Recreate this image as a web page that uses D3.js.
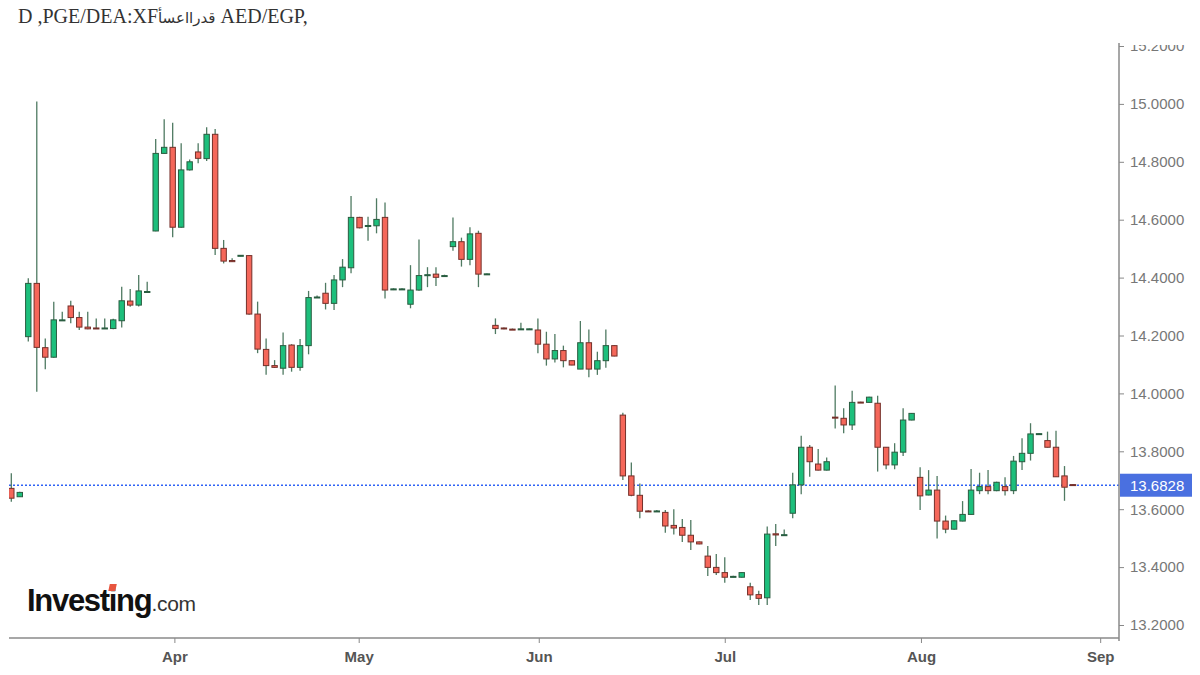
<!DOCTYPE html>
<html>

<head>
    <meta charset="utf-8">
    <style>
        body {
            margin: 0;
            background: #fff;
        }

        .chart-container {
            position: relative;
            width: 1200px;
            height: 675px;
        }

        .headline {
            position: absolute;
            left: 18px;
            top: 5px;
            margin: 0;
            font-family: 'Liberation Serif', 'DejaVu Serif', serif;
            font-weight: normal;
            font-size: 20px;
            color: #333;
            white-space: nowrap;
        }

        .headline .ar {
            font-family: 'DejaVu Sans', sans-serif;
            font-size: 15px;
        }

        svg {
            position: absolute;
            left: 0;
            top: 0;
        }

        .y-axis text {
            font-family: 'Liberation Sans', Arial, sans-serif;
            font-size: 15px;
            fill: #777;
        }

        .x-axis text {
            font-family: 'Liberation Sans', Arial, sans-serif;
            font-size: 15px;
            font-weight: bold;
            fill: #555;
        }
    </style>
</head>

<body>
    <div class="chart-container">
        <h1 class="headline">D ,PGE/DEA:XF<span class="ar">قدرااعسأ</span> AED/EGP,</h1>
        <svg width="1200" height="675"></svg>
    </div>
</body>

<script src="https://d3js.org/d3.v7.min.js"></script>

<script>
    // daily candles, one per trading slot
    let opens = [
        13.672, 13.643, 14.196, 14.380, 14.158, 14.125, 14.252, 14.302, 14.262, 14.229,
        14.226, 14.224, 14.224, 14.251, 14.319, 14.305, 14.350, 14.561, 14.829, 14.850,
        14.574, 14.772, 14.834, 14.811, 14.895, 14.501, 14.459, 14.475, 14.476, 14.274,
        14.152, 14.096, 14.087, 14.167, 14.090, 14.165, 14.331, 14.346, 14.311, 14.392,
        14.434, 14.608, 14.578, 14.579, 14.608, 14.359, 14.359, 14.308, 14.357, 14.408,
        14.412, 14.405, 14.507, 14.524, 14.463, 14.553, 14.410, 14.235, 14.226, 14.222,
        14.221, 14.221, 14.219, 14.170, 14.119, 14.148, 14.113, 14.084, 14.175, 14.084,
        14.113, 14.165, 13.925, 13.715, 13.648, 13.594, 13.592, 13.589, 13.544, 13.537,
        13.510, 13.487, 13.438, 13.399, 13.381, 13.366, 13.365, 13.332, 13.305, 13.294,
        13.515, 13.511, 13.586, 13.684, 13.814, 13.756, 13.735, 13.918, 13.914, 13.891,
        13.970, 13.969, 13.966, 13.814, 13.753, 13.797, 13.908, 13.710, 13.649, 13.666,
        13.559, 13.531, 13.559, 13.582, 13.664, 13.678, 13.664, 13.678, 13.664, 13.764,
        13.793, 13.859, 13.837, 13.814, 13.715, 13.685
    ]
    let highs = [
        13.724, 13.660, 14.398, 15.008, 14.190, 14.317, 14.282, 14.320, 14.282, 14.282,
        14.259, 14.259, 14.258, 14.368, 14.361, 14.409, 14.386, 14.879, 14.947, 14.935,
        14.864, 14.808, 14.864, 14.919, 14.913, 14.530, 14.467, 14.478, 14.478, 14.317,
        14.190, 14.115, 14.210, 14.170, 14.188, 14.354, 14.338, 14.382, 14.409, 14.464,
        14.682, 14.610, 14.610, 14.674, 14.659, 14.363, 14.363, 14.443, 14.532, 14.436,
        14.436, 14.410, 14.608, 14.538, 14.574, 14.562, 14.414, 14.259, 14.228, 14.224,
        14.244, 14.224, 14.259, 14.213, 14.205, 14.165, 14.114, 14.250, 14.221, 14.144,
        14.221, 14.166, 13.933, 13.761, 13.689, 13.596, 13.597, 13.597, 13.600, 13.566,
        13.563, 13.488, 13.473, 13.445, 13.434, 13.370, 13.382, 13.346, 13.318, 13.540,
        13.549, 13.530, 13.726, 13.854, 13.822, 13.808, 13.779, 14.027, 13.949, 14.009,
        13.971, 13.988, 13.992, 13.815, 13.828, 13.949, 13.932, 13.745, 13.735, 13.715,
        13.578, 13.562, 13.628, 13.739, 13.726, 13.735, 13.695, 13.710, 13.784, 13.845,
        13.897, 13.862, 13.868, 13.871, 13.749, 13.687
    ]
    let lows = [
        13.626, 13.642, 14.179, 14.006, 14.083, 14.123, 14.250, 14.242, 14.219, 14.222,
        14.223, 14.223, 14.222, 14.228, 14.299, 14.300, 14.350, 14.560, 14.828, 14.539,
        14.572, 14.770, 14.795, 14.803, 14.478, 14.449, 14.454, 14.474, 14.272, 14.139,
        14.064, 14.088, 14.064, 14.075, 14.078, 14.135, 14.330, 14.290, 14.288, 14.367,
        14.415, 14.570, 14.527, 14.553, 14.328, 14.357, 14.357, 14.294, 14.355, 14.367,
        14.371, 14.404, 14.493, 14.438, 14.443, 14.367, 14.409, 14.205, 14.222, 14.219,
        14.220, 14.220, 14.139, 14.096, 14.107, 14.090, 14.097, 14.084, 14.056, 14.064,
        14.089, 14.128, 13.701, 13.645, 13.569, 13.591, 13.591, 13.519, 13.513, 13.487,
        13.459, 13.479, 13.369, 13.373, 13.346, 13.365, 13.364, 13.286, 13.269, 13.269,
        13.473, 13.510, 13.569, 13.652, 13.712, 13.734, 13.734, 13.879, 13.862, 13.874,
        13.967, 13.968, 13.730, 13.738, 13.738, 13.784, 13.907, 13.597, 13.648, 13.499,
        13.517, 13.529, 13.558, 13.581, 13.652, 13.652, 13.662, 13.647, 13.652, 13.735,
        13.768, 13.858, 13.813, 13.711, 13.629, 13.680
    ]
    let closes = [
        13.638, 13.658, 14.380, 14.159, 14.125, 14.254, 14.254, 14.262, 14.229, 14.223,
        14.224, 14.226, 14.254, 14.320, 14.305, 14.354, 14.352, 14.829, 14.850, 14.574,
        14.772, 14.800, 14.812, 14.895, 14.501, 14.457, 14.455, 14.477, 14.274, 14.153,
        14.096, 14.090, 14.165, 14.090, 14.165, 14.331, 14.333, 14.311, 14.392, 14.436,
        14.608, 14.572, 14.580, 14.601, 14.357, 14.361, 14.361, 14.357, 14.407, 14.410,
        14.401, 14.407, 14.524, 14.463, 14.551, 14.412, 14.413, 14.224, 14.223, 14.220,
        14.223, 14.223, 14.170, 14.119, 14.148, 14.113, 14.098, 14.175, 14.084, 14.113,
        14.165, 14.129, 13.715, 13.648, 13.593, 13.592, 13.594, 13.542, 13.535, 13.510,
        13.487, 13.480, 13.399, 13.381, 13.365, 13.368, 13.381, 13.304, 13.292, 13.514,
        13.511, 13.512, 13.684, 13.814, 13.764, 13.735, 13.764, 13.915, 13.891, 13.969,
        13.968, 13.987, 13.814, 13.753, 13.797, 13.908, 13.931, 13.646, 13.666, 13.559,
        13.531, 13.560, 13.582, 13.666, 13.678, 13.664, 13.693, 13.664, 13.766, 13.793,
        13.860, 13.861, 13.814, 13.712, 13.676, 13.6828
    ]

    let yTicks = [13.2, 13.4, 13.6, 13.8, 14.0, 14.2, 14.4, 14.6, 14.8, 15.0, 15.2]
    let monthLabels = ["Apr", "May", "Jun", "Jul", "Aug", "Sep"]
    let monthSlots = [19.2, 40.9, 62.1, 84.0, 107.1, 128.2]
    let lastPrice = 13.6828

    let plotLeft = 9, plotRight = 1119, plotTop = 43, plotBottom = 638

    let svg = d3.select("svg")

    let x = d3.scaleLinear()
        .domain([0, opens.length - 1])
        .range([11.3, 1073])

    let y = d3.scaleLinear()
        .domain([13.2, 15.2])
        .range([625, 46])

    let candles = opens.map((o, i) => ({ i: i, o: o, h: highs[i], l: lows[i], c: closes[i] }))

    svg.append("clipPath").attr("id", "plot-clip")
        .append("rect")
        .attr("x", plotLeft).attr("y", plotTop)
        .attr("width", plotRight - plotLeft).attr("height", plotBottom - plotTop)

    svg.append("clipPath").attr("id", "axis-clip")
        .append("rect")
        .attr("x", plotRight - 5).attr("y", plotTop + 2)
        .attr("width", 1200 - plotRight + 5).attr("height", 675 - plotTop)

    // logo sits behind the candles
    let logo = svg.append("text")
        .attr("x", 27)
        .attr("y", 611)
        .style("font-family", "'Liberation Sans', Arial, sans-serif")
        .style("font-size", "31px")
        .style("font-weight", "bold")
        .style("letter-spacing", "-1.3px")
        .attr("fill", "#111")
    logo.append("tspan").text("Investing")
    logo.append("tspan")
        .text(".com")
        .style("font-size", "21px")
        .style("font-weight", "normal")
        .style("letter-spacing", "-0.3px")
        .attr("fill", "#333")

    // the red dot over the second i
    let iBox = logo.node().getExtentOfChar(6)
    svg.append("rect")
        .attr("x", iBox.x + iBox.width / 2 - 3.5)
        .attr("y", 584)
        .attr("width", 7)
        .attr("height", 7)
        .attr("fill", "#e8553f")
        .attr("transform", "skewX(-12)")
        .attr("transform-origin", (iBox.x + iBox.width / 2) + " 588")

    let plot = svg.append("g").attr("clip-path", "url(#plot-clip)")

    plot.append("line")
        .attr("x1", plotLeft).attr("x2", plotRight)
        .attr("y1", y(lastPrice)).attr("y2", y(lastPrice))
        .attr("stroke", "#2f62f5")
        .attr("stroke-width", 1.4)
        .attr("stroke-dasharray", "2,2")

    plot.append("g")
        .selectAll("line")
        .data(candles)
        .join("line")
        .attr("x1", d => x(d.i)).attr("x2", d => x(d.i))
        .attr("y1", d => y(d.h)).attr("y2", d => y(d.l))
        .attr("stroke", "#4f7a62")
        .attr("stroke-width", 1.3)

    plot.append("g")
        .selectAll("rect")
        .data(candles)
        .join("rect")
        .attr("x", d => x(d.i) - 2.7)
        .attr("y", d => y(Math.max(d.o, d.c)))
        .attr("width", 5.4)
        .attr("height", d => Math.max(1, Math.abs(y(d.o) - y(d.c))))
        .attr("fill", d => d.c >= d.o ? "#1dbf7c" : "#f5675a")
        .attr("stroke", d => d.c >= d.o ? "#2a5c40" : "#74302a")
        .attr("stroke-width", 1)

    // y axis on the right, top label cut by the chart edge
    let yAxis = svg.append("g")
        .attr("clip-path", "url(#axis-clip)")
        .append("g")
        .attr("class", "y-axis")
        .attr("transform", "translate(" + plotRight + ",0)")
        .call(d3.axisRight(y)
            .tickValues(yTicks)
            .tickFormat(d3.format(".4f"))
            .tickSize(5)
            .tickPadding(6))
    yAxis.select(".domain").remove()
    yAxis.selectAll(".tick line").attr("stroke", "#888")

    svg.append("line")
        .attr("x1", plotRight).attr("x2", plotRight)
        .attr("y1", plotTop).attr("y2", plotBottom + 3)
        .attr("stroke", "#8a8a8a")
        .attr("stroke-width", 1.5)

    // x axis
    let xAxis = svg.append("g")
        .attr("class", "x-axis")
        .attr("transform", "translate(0," + plotBottom + ")")
        .call(d3.axisBottom(x)
            .tickValues(monthSlots)
            .tickFormat((d, i) => monthLabels[i])
            .tickSize(5)
            .tickPadding(8))
    xAxis.select(".domain").remove()
    xAxis.selectAll(".tick line").attr("stroke", "#888")

    svg.append("line")
        .attr("x1", plotLeft).attr("x2", plotRight)
        .attr("y1", plotBottom).attr("y2", plotBottom)
        .attr("stroke", "#8a8a8a")
        .attr("stroke-width", 1.5)

    // last price tag
    svg.append("rect")
        .attr("x", plotRight + 1)
        .attr("y", y(lastPrice) - 11.5)
        .attr("width", 72)
        .attr("height", 23)
        .attr("fill", "#4a70e0")
    svg.append("text")
        .attr("x", plotRight + 11)
        .attr("y", y(lastPrice))
        .attr("dy", "0.36em")
        .style("font-family", "'Liberation Sans', Arial, sans-serif")
        .style("font-size", "15px")
        .attr("fill", "#fff")
        .text(d3.format(".4f")(lastPrice))
</script>

</html>
